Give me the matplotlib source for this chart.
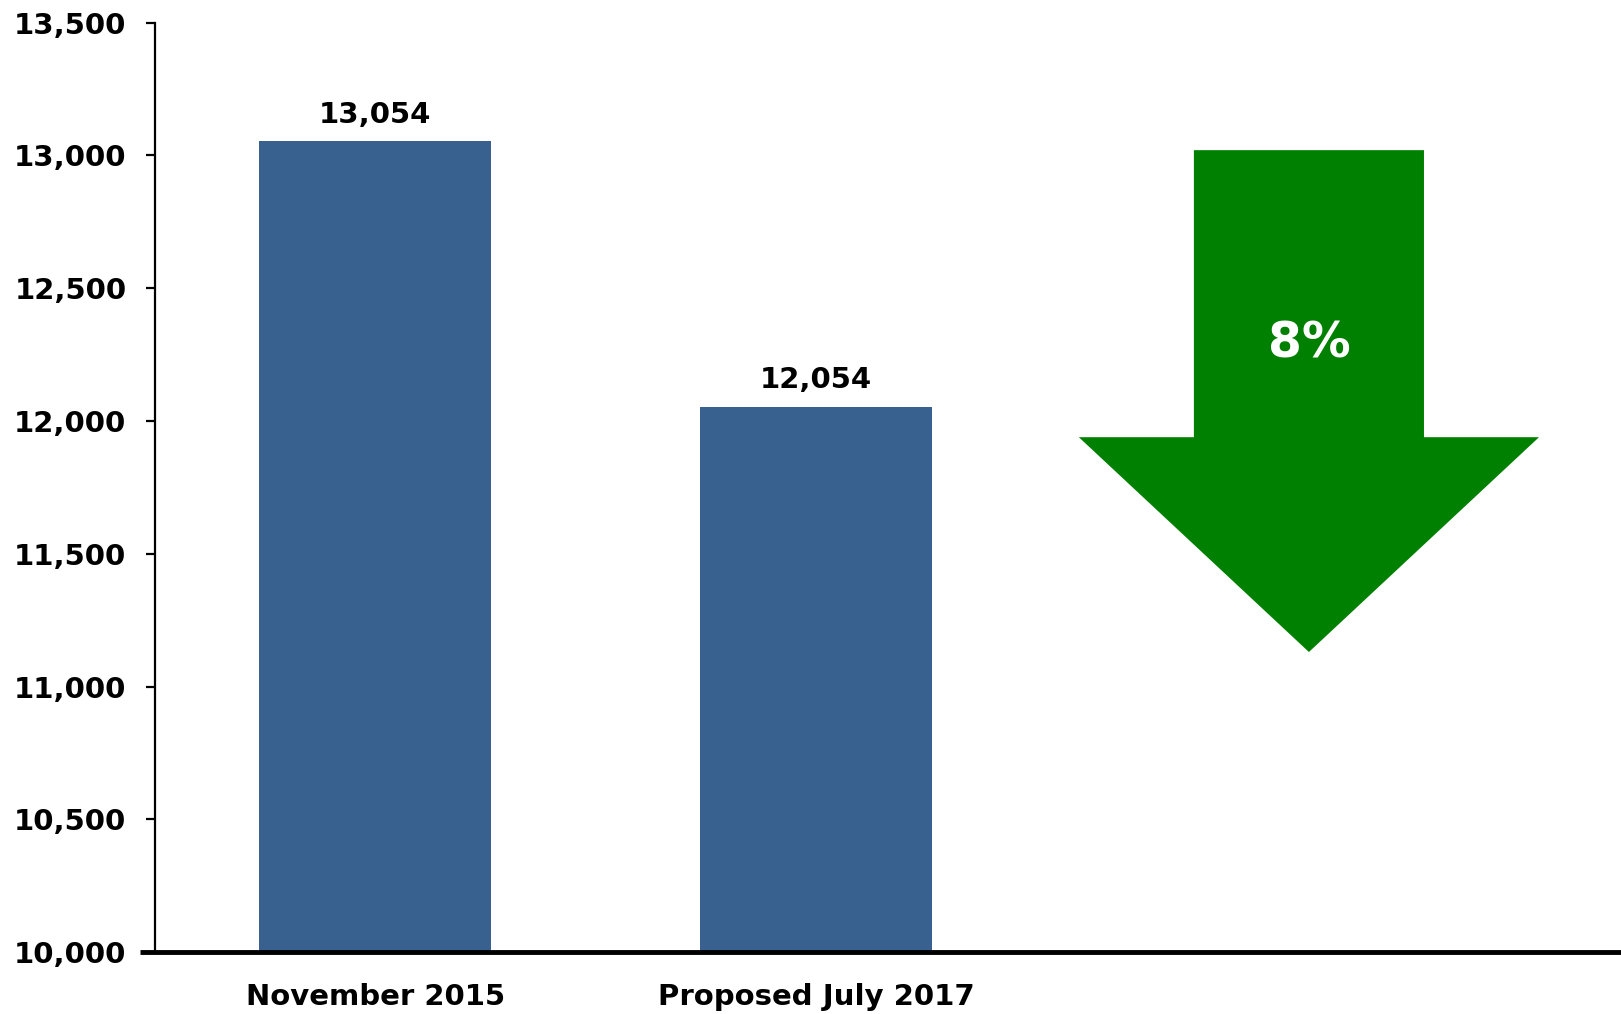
import matplotlib
matplotlib.use('Agg')
import matplotlib.pyplot as plt
from matplotlib.patches import Polygon
from matplotlib.ticker import FuncFormatter

# ==============================================================================
# DATA
# ==============================================================================
categories = ['November 2015', 'Proposed July 2017']
values     = [13054, 12054]
change_lbl = '8%'
y_ticks    = [10000, 10500, 11000, 11500, 12000, 12500, 13000, 13500]

BAR_COLOR   = '#38618f'
ARROW_COLOR = '#008000'

# ==============================================================================
# PLOT
# ==============================================================================
fig = plt.figure(figsize=(16.21, 10.14), dpi=100)
ax = fig.add_axes([0.0956, 0.0611, 0.9044, 0.9165])

x = list(range(len(categories)))
bars = ax.bar(x, values, width=0.526, color=BAR_COLOR, zorder=2)

for b, v in zip(bars, values):
    ax.annotate(f'{v:,}', (b.get_x() + b.get_width() / 2, v),
                xytext=(0, 9), textcoords='offset points',
                ha='center', va='bottom', fontsize=21, fontweight='bold')

ax.set_xlim(-0.5, 2.826)
ax.set_ylim(y_ticks[0], y_ticks[-1])
ax.set_yticks(y_ticks)
ax.yaxis.set_major_formatter(FuncFormatter(lambda v, p: f'{int(v):,}'))
ax.set_xticks(x)
ax.set_xticklabels(categories)

for s in ['top', 'right', 'bottom']:
    ax.spines[s].set_visible(False)
ax.spines['left'].set_linewidth(1.6)

ax.tick_params(axis='y', length=6.5, width=1.6, pad=14,
               labelsize=21)
ax.tick_params(axis='x', length=0, pad=22, labelsize=21)
for lbl in ax.get_xticklabels() + ax.get_yticklabels():
    lbl.set_fontweight('bold')

# thick baseline, reaching a little left of the y axis
ax.plot([-0.01, 1.0], [0, 0], transform=ax.transAxes, color='black',
        lw=3.5, clip_on=False, zorder=5, solid_capstyle='butt')

# ── down arrow ────────────────────────────────────────────────────────────
cx = 2.118
shaft_half, head_half = 0.261, 0.522
top, shoulder, tip = 13020, 11939, 11130
arrow = Polygon([(cx - shaft_half, top), (cx + shaft_half, top),
                 (cx + shaft_half, shoulder), (cx + head_half, shoulder),
                 (cx, tip), (cx - head_half, shoulder),
                 (cx - shaft_half, shoulder)],
                closed=True, facecolor=ARROW_COLOR, edgecolor='none', zorder=3)
ax.add_patch(arrow)
ax.text(cx, 12290, change_lbl, color='white', fontsize=35,
        fontweight='semibold', ha='center', va='center', zorder=4)

fig.savefig('out.png', dpi=100, facecolor='white')
